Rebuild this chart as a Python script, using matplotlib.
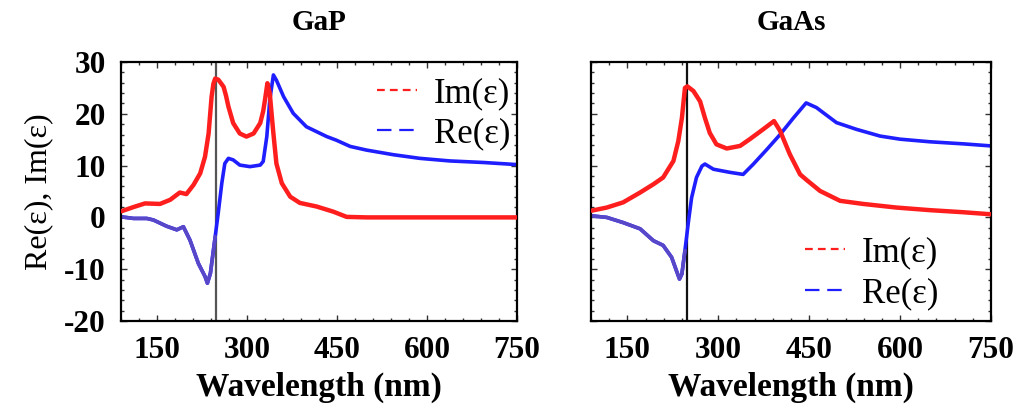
import matplotlib
matplotlib.use("Agg")
import matplotlib.pyplot as plt
from matplotlib.lines import Line2D
from matplotlib.ticker import MultipleLocator
import numpy as np

# --------------------------------------------------------------------------- #
# Data                                        #
# --------------------------------------------------------------------------- #

gap_im_wl = [91, 111, 130, 155, 172, 188, 199, 211, 222, 230, 236, 241, 244,
             247, 252, 256, 261, 265, 269, 277, 288, 299, 311, 322, 327, 330,
             334, 338, 341, 344, 349, 358, 372, 388, 416, 444, 466, 500, 600,
             750]
gap_im = [1.2, 2.0, 2.7, 2.6, 3.4, 4.8, 4.5, 6.3, 8.5, 11.7, 16.2, 23.3, 25.8,
          26.8, 26.6, 26.0, 25.2, 23.5, 21.4, 18.2, 16.2, 15.6, 16.2, 18.2,
          20.5, 22.7, 25.9, 23.9, 20.0, 16.2, 10.4, 6.6, 4.0, 2.8, 2.1, 1.1,
          0.1, 0.0, 0.0, 0.0]

gap_re_wl = [91, 111, 133, 144, 166, 183, 194, 205, 219, 230, 234, 239, 247,
             252, 258, 263, 269, 277, 288, 305, 322, 327, 333, 338, 344, 349,
             361, 377, 399, 433, 449, 472, 499, 544, 588, 638, 694, 749]
gap_re = [0.1, -0.2, -0.2, -0.5, -1.7, -2.4, -1.8, -4.4, -8.9, -11.4, -12.7,
          -10.8, -3.7, 0.8, 6.6, 10.4, 11.4, 11.1, 10.1, 9.8, 10.1, 10.8, 15.6,
          22.7, 27.5, 26.5, 23.3, 20.1, 17.5, 15.6, 14.9, 13.7, 13.0, 12.1,
          11.4, 10.9, 10.6, 10.2]

gaas_im_wl = [91, 116, 143, 171, 193, 209, 226, 234, 240, 245, 249, 259, 270,
              278, 286, 297, 314, 336, 352, 374, 392, 402, 418, 435, 446, 468,
              501, 539, 594, 649, 704, 750]
gaas_im = [1.3, 1.9, 2.9, 4.8, 6.4, 7.7, 10.9, 14.7, 19.2, 25.0, 25.3, 24.4,
           22.4, 19.2, 16.3, 14.1, 13.3, 13.8, 15.1, 17.0, 18.6, 16.7, 12.2,
           8.3, 7.2, 5.1, 3.2, 2.6, 1.9, 1.4, 1.0, 0.6]

gaas_re_wl = [91, 116, 143, 171, 193, 209, 223, 231, 236, 240, 245, 251, 256,
              264, 273, 278, 292, 319, 341, 358, 380, 402, 424, 445, 462, 495,
              528, 567, 600, 649, 704, 750]
gaas_re = [0.3, 0.0, -1.0, -2.2, -4.5, -5.4, -7.7, -10.3, -11.9, -10.9, -6.4,
           -0.6, 3.8, 7.7, 9.9, 10.3, 9.3, 8.7, 8.3, 10.3, 13.1, 16.0, 19.2,
           22.1, 21.2, 18.3, 17.0, 15.7, 15.1, 14.6, 14.2, 13.8]

# wavelength marked by the vertical line in each panel
gap_marker_wl = 248
gaas_marker_wl = 249

x_ticks = [150, 300, 450, 600, 750]
y_ticks = [-20, -10, 0, 10, 20, 30]

RED = "#ff1e1e"
BLUE = "#1e1eff"
SLATE = "#5848c8"   # the negative part of Re(e) is drawn in a purplish blue

plt.rcParams["font.family"] = ["Liberation Serif", "DejaVu Serif"]
plt.rcParams["axes.unicode_minus"] = False


def draw_panel(ax, title, im_wl, im, re_wl, re, marker_wl, vcolor,
               legend_anchor, show_ylabels):
    im_wl, im = np.asarray(im_wl), np.asarray(im)
    re_wl, re = np.asarray(re_wl), np.asarray(re)

    ax.axvline(marker_wl, color=vcolor, linewidth=1.6, zorder=1)

    ax.plot(re_wl, re, color=BLUE, linewidth=2.6, solid_capstyle="round",
            solid_joinstyle="round", zorder=2)
    left = re_wl <= marker_wl
    ax.plot(re_wl[left], re[left], color=SLATE, linewidth=2.6,
            solid_capstyle="round", solid_joinstyle="round", zorder=2)
    ax.plot(im_wl, im, color=RED, linewidth=3.2, solid_capstyle="round",
            solid_joinstyle="round", zorder=3)

    ax.set_xlim(90, 750)
    ax.set_ylim(-20, 30)
    ax.set_xticks(x_ticks)
    ax.set_yticks(y_ticks)
    ax.xaxis.set_minor_locator(MultipleLocator(30))
    ax.yaxis.set_minor_locator(MultipleLocator(2))
    ax.tick_params(which="both", direction="in", top=True, right=True,
                   width=1.0, color="#333333")
    ax.tick_params(which="major", length=4, labelsize=22.5, pad=11)
    ax.tick_params(which="minor", length=2.5)
    for lab in ax.get_xticklabels() + ax.get_yticklabels():
        lab.set_fontweight("bold")
    if not show_ylabels:
        ax.tick_params(axis="y", labelleft=False)
    for sp in ax.spines.values():
        sp.set_linewidth(1.6)

    ax.set_title(title, fontsize=21, fontweight="bold", pad=23)
    ax.set_xlabel("Wavelength (nm)", fontsize=24, fontweight="bold", labelpad=5)

    handles = [
        Line2D([], [], color=RED, linewidth=1.6, linestyle=(0, (3.5, 2.3))),
        Line2D([], [], color=BLUE, linewidth=1.6, linestyle=(0, (6.5, 3.5))),
    ]
    ax.legend(handles, ["Im(\u03b5)", "Re(\u03b5)"], loc="center left",
              bbox_to_anchor=legend_anchor, frameon=False, fontsize=25,
              handlelength=1.15, handletextpad=0.5, labelspacing=0.22,
              borderpad=0.4, borderaxespad=0.0)


fig = plt.figure(figsize=(10.22, 4.12), dpi=100)
ax1 = fig.add_axes([121 / 1022, 91 / 412, 396 / 1022, 259 / 412])
ax2 = fig.add_axes([591 / 1022, 91 / 412, 400 / 1022, 259 / 412])

draw_panel(ax1, "GaP", gap_im_wl, gap_im, gap_re_wl, gap_re,
           gap_marker_wl, "#555555", (0.611, 0.80), True)
draw_panel(ax2, "GaAs", gaas_im_wl, gaas_im, gaas_re_wl, gaas_re,
           gaas_marker_wl, "#111111", (0.50, 0.185), False)

ax1.set_ylabel("Re(\u03b5), Im(\u03b5)", fontsize=23, labelpad=8)

fig.savefig("out.png", dpi=100)
